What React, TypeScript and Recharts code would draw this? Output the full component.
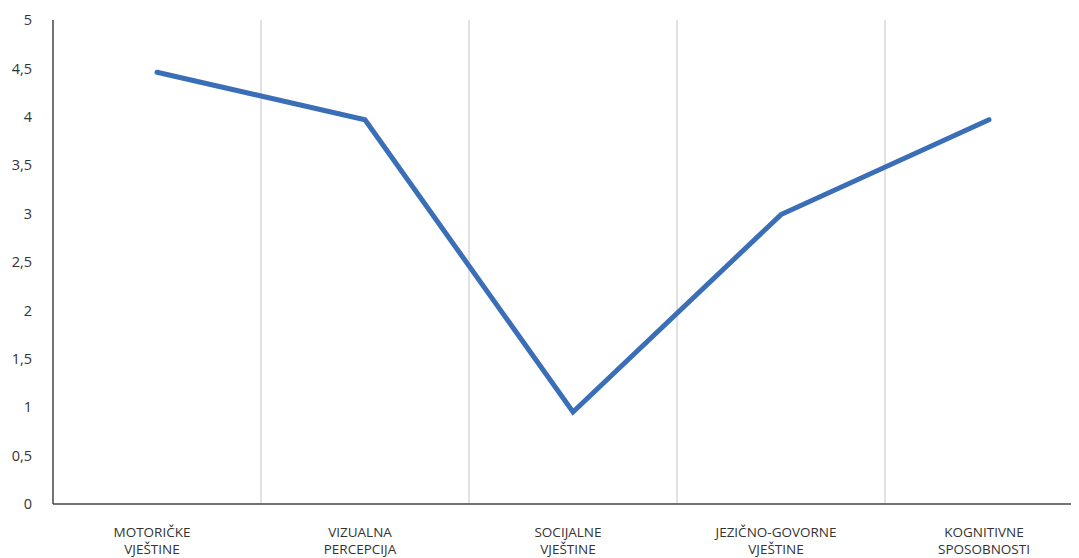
import React from 'react';
import { LineChart, Line, XAxis, YAxis, ReferenceLine } from 'recharts';

const categories = [
  'MOTORIČKE VJEŠTINE',
  'VIZUALNA PERCEPCIJA',
  'SOCIJALNE VJEŠTINE',
  'JEZIČNO-GOVORNE VJEŠTINE',
  'KOGNITIVNE SPOSOBNOSTI',
];
const values = [4.46, 3.97, 0.95, 2.99, 3.97];
const yTicks = [0, 0.5, 1, 1.5, 2, 2.5, 3, 3.5, 4, 4.5, 5];

const data = categories.map((name, i) => ({ name, value: values[i] }));

const FONT = '"Open Sans", "Noto Sans", sans-serif';

const YTick = (props: any) => {
  const { x, y, payload } = props;
  return (
    <text x={x} y={y} dy="0.355em" dx={-1} textAnchor="end" fill="#333" fontSize={14.5} fontFamily={FONT}>
      {String(payload.value).replace('.', ',')}
    </text>
  );
};

const XTick = (props: any) => {
  const { x, y, payload } = props;
  const words: string[] = String(payload.value).split(' ');
  return (
    <text textAnchor="middle" fill="#333" fontSize={13.5} fontFamily={FONT}>
      {words.map((w, i) => (
        <tspan key={i} x={x - 5} y={y + 33 + i * 17}>{w}</tspan>
      ))}
    </text>
  );
};

export default function App() {
  return (
    <div style={{ width: 1071, height: 550, overflow: 'hidden' }}>
      <LineChart
        width={1100}
        height={550}
        data={data}
        margin={{ top: 12, right: 15, left: 0, bottom: 4 }}
      >
        {categories.slice(1).map(c => (
          <ReferenceLine key={c} x={c} position="start" stroke="#c4c4c4" strokeWidth={1} />
        ))}
        <XAxis
          dataKey="name"
          scale="band"
          height={50}
          tickLine={false}
          tickSize={0}
          tickMargin={0}
          interval={0}
          axisLine={{ stroke: '#444', strokeWidth: 1.5 }}
          tick={<XTick />}
        />
        <YAxis
          width={45}
          domain={[0, 5]}
          ticks={yTicks}
          tickLine={false}
          tickSize={0}
          tickMargin={20}
          axisLine={{ stroke: '#444', strokeWidth: 1.5 }}
          tick={<YTick />}
        />
        <Line
          dataKey="value"
          stroke="#3a6fb8"
          strokeWidth={5}
          strokeLinecap="round"
          dot={false}
          activeDot={false}
          isAnimationActive={false}
        />
      </LineChart>
    </div>
  );
}
